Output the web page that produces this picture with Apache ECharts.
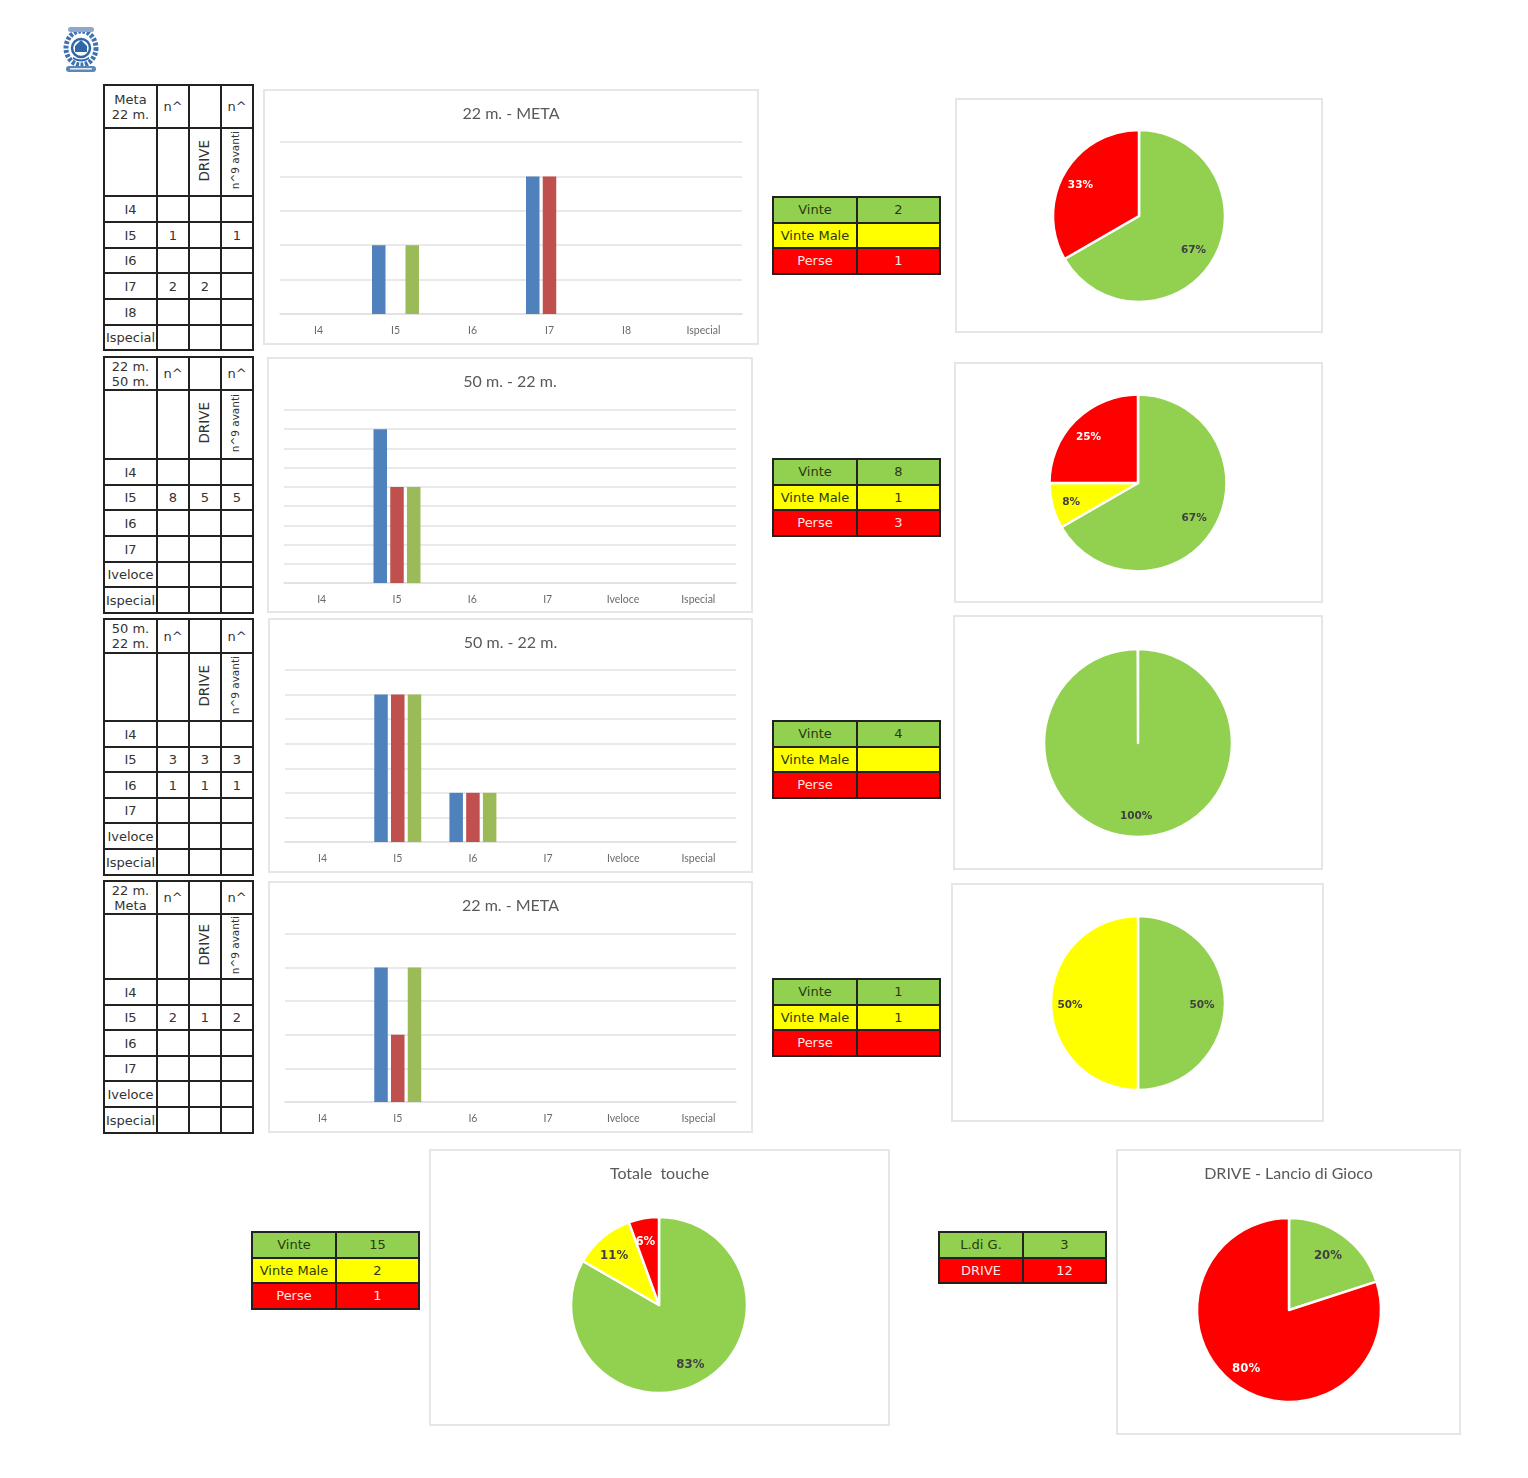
<!DOCTYPE html>
<html>
<head>
<meta charset="utf-8">
<title>Touche</title>
<script src="https://cdn.jsdelivr.net/npm/echarts@6/dist/echarts.min.js"></script>
<style>
html, body { margin: 0; padding: 0; background: #fff; }
#page { position: relative; width: 1528px; height: 1478px; overflow: hidden; }
.panel { position: absolute; box-sizing: border-box; border: 2px solid #e6e6e6; background: #fff; }
table { position: absolute; border-collapse: collapse; table-layout: fixed; font-family: "DejaVu Sans", sans-serif; font-size: 13px; color: #333; }
td { border: 2px solid #222; padding: 1px 0 0 0; text-align: center; vertical-align: middle; line-height: 16px; overflow: hidden; white-space: nowrap; }
td.head { padding: 0; line-height: 15px; }
.vert { writing-mode: vertical-rl; transform: rotate(180deg); display: inline-block; position: relative; left: -1px; line-height: 14px; }
.small { font-size: 10.5px; left: -2px; }
.mid { font-size: 13.5px; }
</style>
</head>
<body>
<div id="page">
  <svg style="position:absolute;left:62px;top:26px" width="38" height="47" viewBox="0 0 38 47">
    <ellipse cx="19" cy="22" rx="15" ry="17" fill="#fff" stroke="#3f72ae" stroke-width="5" stroke-dasharray="3 1.5"/>
    <circle cx="19" cy="22" r="9" fill="#fff" stroke="#2f68a8" stroke-width="2.5"/>
    <path d="M13 26 L13 20 L19 14 L25 20 L25 26 Z" fill="#2f68a8"/>
    <path d="M11 31 Q19 36 27 31 L27 33 Q19 38 11 33 Z" fill="#2f68a8"/>
    <rect x="4" y="40" width="30" height="6" rx="3" fill="#5a86b8"/>
    <rect x="8" y="42" width="22" height="1.6" fill="#dfe8f2"/>
    <rect x="6" y="1" width="26" height="5" rx="2.5" fill="#8ca8ca"/>
  </svg>
</div>
<script>
var categoriesA = ["I4", "I5", "I6", "I7", "I8", "Ispecial"];
var categoriesB = ["I4", "I5", "I6", "I7", "Iveloce", "Ispecial"];

var meta22Count = [null, 1, null, 2, null, null];
var meta22Drive = [null, null, null, 2, null, null];
var meta22Avanti = [null, 1, null, null, null, null];

var m2250Count = [null, 8, null, null, null, null];
var m2250Drive = [null, 5, null, null, null, null];
var m2250Avanti = [null, 5, null, null, null, null];

var m5022Count = [null, 3, 1, null, null, null];
var m5022Drive = [null, 3, 1, null, null, null];
var m5022Avanti = [null, 3, 1, null, null, null];

var m22MetaCount = [null, 2, null, null, null, null];
var m22MetaDrive = [null, 1, null, null, null, null];
var m22MetaAvanti = [null, 2, null, null, null, null];

var pie1Values = [2, null, 1];
var pie2Values = [8, 1, 3];
var pie3Values = [4, null, null];
var pie4Values = [1, 1, null];
var totalValues = [15, 2, 1];
var driveValues = [3, 12];

var resultNames = ["Vinte", "Vinte Male", "Perse"];
var driveNames = ["L.di G.", "DRIVE"];

var GREEN = "#92D050", YELLOW = "#FFFF00", RED = "#FF0000";
var page = document.getElementById("page");

function makeBox(x, y, w, h) {
    var d = document.createElement("div");
    d.className = "panel";
    d.style.cssText = "left:" + x + "px;top:" + y + "px;width:" + w + "px;height:" + h + "px";
    page.appendChild(d);
    return d;
}

function titleOption(text, top) {
    return {
        text: text, left: "center", top: top,
        textStyle: { fontFamily: "Lato", fontWeight: "normal", fontSize: 16, color: "#595959" }
    };
}

// bar panel: box = [x1,y1,x2,y2], grid = [x1,y1,x2,y2] in page pixels
function barChart(box, grid, title, titleY, cats, series, max, interval) {
    var chart = echarts.init(makeBox(box[0], box[1], box[2] - box[0], box[3] - box[1]));
    var colors = ["#4F81BD", "#C0504D", "#9BBB59"];
    var names = ["n^", "DRIVE", "n^9 avanti"];
    chart.setOption({
        animation: false,
        title: titleOption(title, titleY - box[1] - 14),
        grid: { left: grid[0] - box[0] - 2, right: box[2] - grid[2] - 2, top: grid[1] - box[1] - 2, bottom: box[3] - grid[3] - 2 },
        xAxis: {
            type: "category", data: cats,
            axisTick: { show: false },
            axisLine: { lineStyle: { color: "#e0e0e0", width: 1.5 } },
            axisLabel: { color: "#6b6b6b", fontFamily: "Lato", fontSize: 10.5, margin: 11, interval: 0 }
        },
        yAxis: {
            type: "value", min: 0, max: max, interval: interval,
            axisLabel: { show: false },
            axisLine: { show: false },
            axisTick: { show: false },
            splitLine: { lineStyle: { color: "#e2e2e2", width: 1.5 } }
        },
        series: series.map(function (vals, i) {
            return { type: "bar", name: names[i], data: vals, barWidth: 13.5, barGap: "24%", itemStyle: { color: colors[i] } };
        })
    });
}

// pie panel: labels sit further out than the default inside position
function pieChart(box, cx, cy, r, title, titleY, values, colors, big) {
    var chart = echarts.init(makeBox(box[0], box[1], box[2] - box[0], box[3] - box[1]));
    var ox = cx - box[0] - 2, oy = cy - box[1] - 2;
    var data = [];
    values.forEach(function (v, i) {
        if (v) {
            data.push({
                value: v,
                itemStyle: { color: colors[i] },
                label: { color: colors[i] === RED ? "#fff" : "#404040" }
            });
        }
    });
    var option = {
        animation: false,
        series: [{
            type: "pie", center: [ox, oy], radius: r, clockwise: true,
            startAngle: 90,
            endAngle: data.length === 1 ? -269.8 : -270,
            percentPrecision: 0,
            data: data,
            itemStyle: { borderColor: "#fff", borderWidth: 2.5 },
            label: {
                position: "inside", formatter: "{d}%", fontWeight: "bold",
                fontSize: big ? 13 : 10.5,
                fontFamily: big ? "DejaVu Sans Condensed" : "DejaVu Sans"
            },
            labelLine: { show: false },
            emphasis: { disabled: true },
            labelLayout: function (p) {
                var lx = p.labelRect.x + p.labelRect.width / 2 - ox;
                var ly = p.labelRect.y + p.labelRect.height / 2 - oy;
                return { dx: lx * 0.42 - 2, dy: ly * 0.42 + 2 };
            }
        }]
    };
    if (title) {
        option.title = titleOption(title, titleY - box[1] - 14);
    }
    chart.setOption(option);
}

function cell(v) { return v === null || v === undefined ? "" : v; }

// left-hand count table, rows = y of every row line
function countTable(x, rows, head, labels, a, b, c) {
    var cols = [53, 32, 32, 32];
    var html = "<colgroup>" + cols.map(function (w) { return '<col style="width:' + w + 'px">'; }).join("") + "</colgroup>";
    function tr(i, inner) { return '<tr style="height:' + (rows[i + 1] - rows[i]) + 'px">' + inner + "</tr>"; }
    html += tr(0, '<td class="head">' + head[0] + "<br>" + head[1] + "</td><td>n^</td><td></td><td>n^</td>");
    html += tr(1, '<td></td><td></td><td><span class="vert mid">DRIVE</span></td><td><span class="vert small">n^9 avanti</span></td>');
    labels.forEach(function (l, i) {
        html += tr(i + 2, "<td>" + l + "</td><td>" + cell(a[i]) + "</td><td>" + cell(b[i]) + "</td><td>" + cell(c[i]) + "</td>");
    });
    var t = document.createElement("table");
    t.style.cssText = "left:" + (x - 1) + "px;top:" + (rows[0] - 1) + "px;width:149px";
    t.innerHTML = html;
    page.appendChild(t);
}

function resultTable(x, y, names, values, colors, rowH) {
    var html = '<colgroup><col style="width:84px"><col style="width:83px"></colgroup>';
    names.forEach(function (n, i) {
        var fg = colors[i] === RED ? "#ffe6e6" : "#2a3a10";
        html += '<tr style="height:' + rowH + "px;background:" + colors[i] + ";color:" + fg + '"><td>' + n + "</td><td>" + cell(values[i]) + "</td></tr>";
    });
    var t = document.createElement("table");
    t.style.cssText = "left:" + (x - 1) + "px;top:" + (y - 1) + "px;width:167px";
    t.innerHTML = html;
    page.appendChild(t);
}

var three = [GREEN, YELLOW, RED];

countTable(104, [85, 128, 196, 222, 248, 273, 299, 325, 350], ["Meta", "22 m."], categoriesA, meta22Count, meta22Drive, meta22Avanti);
countTable(104, [357, 390, 459, 485, 510, 536, 562, 587, 613], ["22 m.", "50 m."], categoriesB, m2250Count, m2250Drive, m2250Avanti);
countTable(104, [619, 653, 721, 747, 772, 798, 823, 849, 875], ["50 m.", "22 m."], categoriesB, m5022Count, m5022Drive, m5022Avanti);
countTable(104, [881, 914, 979, 1005, 1030, 1056, 1081, 1107, 1133], ["22 m.", "Meta"], categoriesB, m22MetaCount, m22MetaDrive, m22MetaAvanti);

barChart([263, 89, 759, 345], [280, 142, 742, 314], "22 m. - META", 113, categoriesA, [meta22Count, meta22Drive, meta22Avanti], 2.5, 0.5);
barChart([267, 357, 753, 613], [284, 410, 736, 583], "50 m. - 22 m.", 381, categoriesB, [m2250Count, m2250Drive, m2250Avanti], 9, 1);
barChart([268, 618, 753, 873], [285, 670, 736, 842], "50 m. - 22 m.", 642, categoriesB, [m5022Count, m5022Drive, m5022Avanti], 3.5, 0.5);
barChart([268, 881, 753, 1133], [285, 934, 736, 1102], "22 m. - META", 905, categoriesB, [m22MetaCount, m22MetaDrive, m22MetaAvanti], 2.5, 0.5);

resultTable(773, 197, resultNames, pie1Values, three, 25.6);
resultTable(773, 459, resultNames, pie2Values, three, 25.6);
resultTable(773, 721, resultNames, pie3Values, three, 25.6);
resultTable(773, 979, resultNames, pie4Values, three, 25.6);
resultTable(252, 1232, resultNames, totalValues, three, 25.6);
resultTable(939, 1232, driveNames, driveValues, [GREEN, RED], 25.6);

pieChart([955, 98, 1323, 333], 1139, 216, 86, null, 0, pie1Values, three, false);
pieChart([954, 362, 1323, 603], 1138, 483, 88.5, null, 0, pie2Values, three, false);
pieChart([953, 615, 1323, 870], 1138, 743, 94, null, 0, pie3Values, three, false);
pieChart([951, 883, 1324, 1122], 1138, 1003, 87, null, 0, pie4Values, three, false);
pieChart([429, 1149, 890, 1426], 659, 1305, 88, "Totale  touche", 1173, totalValues, three, true);
pieChart([1116, 1149, 1461, 1435], 1289, 1310, 92, "DRIVE - Lancio di Gioco", 1173, driveValues, [GREEN, RED], true);
</script>
</body>
</html>
